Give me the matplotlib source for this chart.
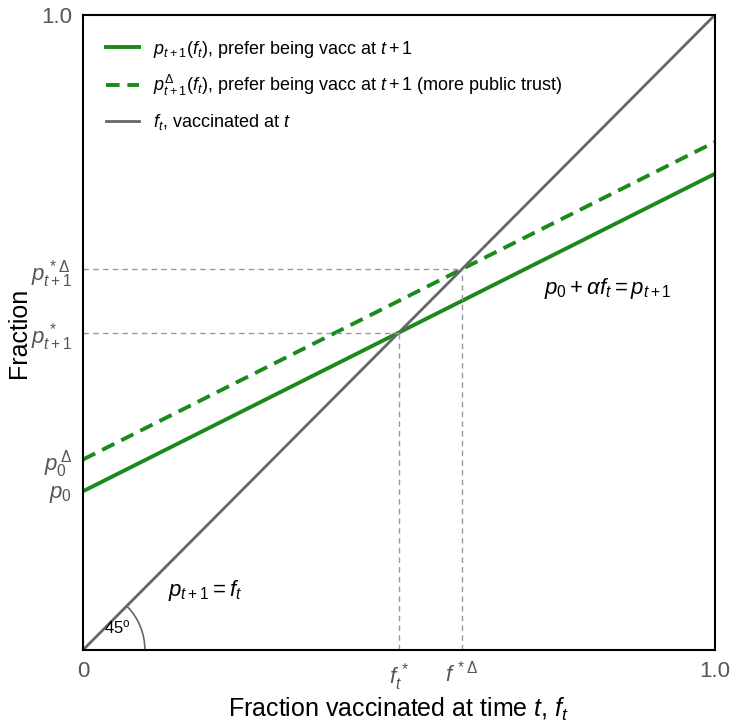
import numpy as np
import matplotlib.pyplot as plt
from matplotlib.patches import Arc

plt.rcParams['font.family'] = ['Liberation Sans', 'DejaVu Sans']
plt.rcParams['mathtext.fontset'] = 'custom'
plt.rcParams['mathtext.rm'] = 'Liberation Sans'
plt.rcParams['mathtext.it'] = 'Liberation Sans:italic'

# data
f_t = [0.0, 1.0]
p_next = [0.25, 0.75]          # p0 + alpha f_t
p_next_trust = [0.30, 0.80]    # with more public trust
diagonal = [0.0, 1.0]
f_star = [0.5, 0.6]            # equilibria (solid, dashed)
p_intercepts = [0.25, 0.30]

x_ticks = [0, f_star[0], f_star[1], 1.0]
x_labels = ['0', r'$f_t^{\,*}$', r'$f^{\,*\Delta}$', '1.0']
y_ticks = [p_intercepts[0], p_intercepts[1], f_star[0], f_star[1], 1.0]
y_labels = [r'$p_0$', r'$p_0^{\,\Delta}$', r'$p_{t+1}^{\,*}$', r'$p_{t+1}^{\,*\Delta}$', '1.0']

fig = plt.figure(figsize=(7.3, 7.23), dpi=100)
ax = fig.add_axes([0.1137, 0.101, 0.8653, 0.878])

green = '#1a8a1a'
grey = '#666666'
ax.plot(f_t, p_next, color=green, lw=2.8, label=r'$p_{t+1}(f_t)$, prefer being vacc at $t+1$')
ax.plot(f_t, p_next_trust, color=green, lw=2.8, ls=(0, (3.5, 2)),
        label=r'$p_{t+1}^{\Delta}(f_t)$, prefer being vacc at $t+1$ (more public trust)')
ax.plot(f_t, diagonal, color=grey, lw=2, label=r'$f_t$, vaccinated at $t$')

# guide lines to the equilibria
for fs in f_star:
    ax.plot([0, fs], [fs, fs], color='#999999', lw=1, ls=(0, (4, 3)))
    ax.plot([fs, fs], [0, fs], color='#999999', lw=1, ls=(0, (4, 3)))

ax.add_patch(Arc((0, 0), 0.196, 0.196, theta1=0, theta2=45, color=grey, lw=1.2))
ax.text(0.033, 0.026, r'45$^\mathrm{o}$', fontsize=12)
ax.text(0.135, 0.085, r'$p_{t+1} = f_t$', fontsize=16)
ax.text(0.73, 0.56, r'$p_0 + \alpha f_t = p_{t+1}$', fontsize=16)

ax.set_xlim(0, 1)
ax.set_ylim(0, 1)
ax.set_xticks(x_ticks)
ax.set_xticklabels(x_labels)
ax.set_yticks(y_ticks)
ax.set_yticklabels(y_labels)
ax.tick_params(length=0, labelsize=16, labelcolor='#555555', pad=8)
for s in ax.spines.values():
    s.set_linewidth(1.5)

ax.set_xlabel(r'Fraction vaccinated at time $t$, $f_t$', fontsize=18, labelpad=2)
ax.set_ylabel('Fraction', fontsize=18, labelpad=0)
ax.legend(loc='upper left', frameon=False, fontsize=13, handlelength=1.8,
          borderaxespad=0.9, labelspacing=0.75)

fig.savefig('out.png', dpi=100)
